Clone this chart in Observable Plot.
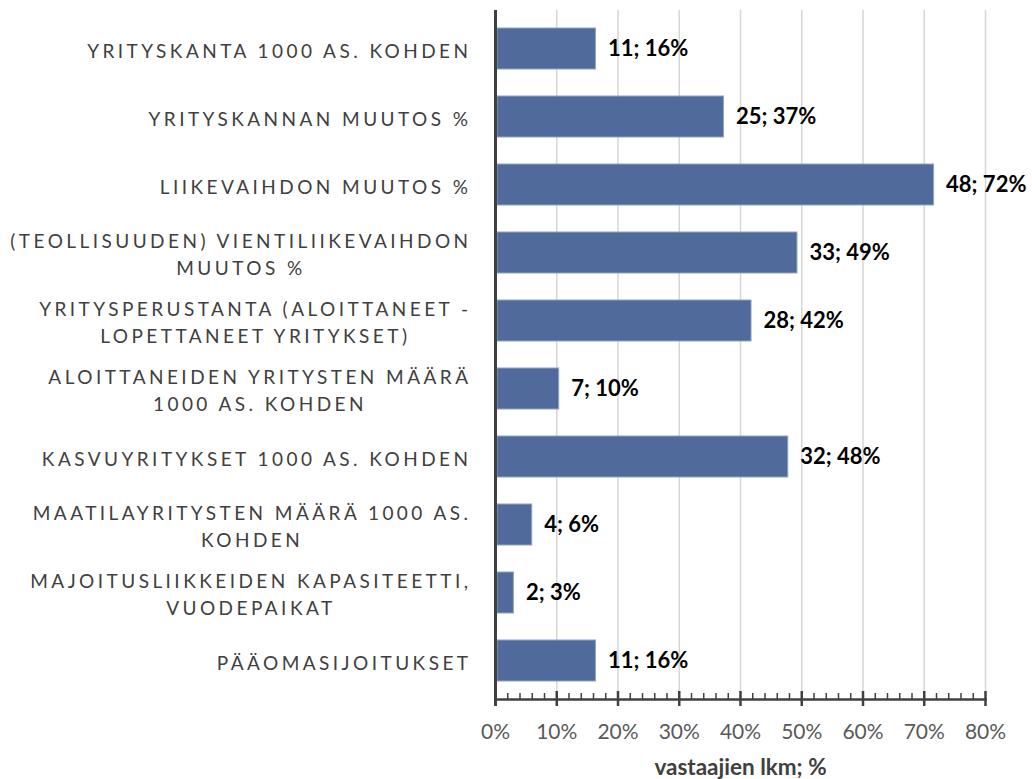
<!DOCTYPE html>
<html><head><meta charset="utf-8">
<script src="https://cdn.jsdelivr.net/npm/d3@7"></script>
<script src="https://cdn.jsdelivr.net/npm/@observablehq/plot@0.6"></script>
<style>
body{margin:0;background:#fff}
#chart svg{font-family:Lato,"Open Sans",sans-serif;background:#fff}
#chart g[aria-label="y-axis tick label"] text{letter-spacing:3.45px}
</style></head><body><div id="chart"></div>
<script>
const categories = [
  "YRITYSKANTA 1000 AS. KOHDEN",
  "YRITYSKANNAN MUUTOS %",
  "LIIKEVAIHDON MUUTOS %",
  "(TEOLLISUUDEN) VIENTILIIKEVAIHDON MUUTOS %",
  "YRITYSPERUSTANTA (ALOITTANEET - LOPETTANEET YRITYKSET)",
  "ALOITTANEIDEN YRITYSTEN MÄÄRÄ 1000 AS. KOHDEN",
  "KASVUYRITYKSET 1000 AS. KOHDEN",
  "MAATILAYRITYSTEN MÄÄRÄ 1000 AS. KOHDEN",
  "MAJOITUSLIIKKEIDEN KAPASITEETTI, VUODEPAIKAT",
  "PÄÄOMASIJOITUKSET"
];
const counts = [11, 25, 48, 33, 28, 7, 32, 4, 2, 11];
const shares = [16.4, 37.3, 71.6, 49.3, 41.8, 10.4, 47.8, 6.0, 3.0, 16.4];
const valueLabels = ["11; 16%", "25; 37%", "48; 72%", "33; 49%", "28; 42%", "7; 10%", "32; 48%", "4; 6%", "2; 3%", "11; 16%"];
const xTicks = [0, 10, 20, 30, 40, 50, 60, 70, 80];
const minorTicks = [2, 4, 6, 8, 12, 14, 16, 18, 22, 24, 26, 28, 32, 34, 36, 38, 42, 44, 46, 48, 52, 54, 56, 58, 62, 64, 66, 68, 72, 74, 76, 78];
const xTitle = "vastaajien lkm; %";

function wrap(s, max = 33) {
  const words = s.split(" ");
  const lines = [];
  let cur = "";
  for (const w of words) {
    if (cur && (cur + " " + w).length > max) { lines.push(cur); cur = w; }
    else cur = cur ? cur + " " + w : w;
  }
  if (cur) lines.push(cur);
  return lines.join("\n");
}

const data = categories.map((c, i) => ({category: c, count: counts[i], share: shares[i], label: valueLabels[i]}));

const W = 1032, H = 779, mT = 10, mB = 80, mL = 495, mR = 47;
const innerH = H - mT - mB;

const chart = Plot.plot({
  width: W, height: H,
  marginLeft: mL, marginRight: mR, marginTop: mT, marginBottom: mB,
  x: {domain: [0, 80]},
  y: {domain: categories, paddingInner: 0.4, paddingOuter: 0.2},
  marks: [
    Plot.gridX(xTicks.slice(1), {stroke: "#d6d6d6", strokeOpacity: 1, strokeWidth: 1.5}),
    Plot.barX(data, {x: "share", y: "category", fill: "#4a6698", fillOpacity: 0.97, stroke: "#8ea3c8", strokeWidth: 1, insetLeft: 2}),
    Plot.text(data, {x: "share", y: "category", text: "label", textAnchor: "start", dx: 12, fontWeight: "bold", fontSize: 22, fill: "#000"}),
    Plot.frame({anchor: "bottom", stroke: "#404040", strokeWidth: 2.5}),
    Plot.tickX(minorTicks, {x: d => d, stroke: "#404040", strokeWidth: 1.5, insetTop: innerH - 6}),
    Plot.tickX(xTicks, {x: d => d, stroke: "#404040", strokeWidth: 2.5, insetTop: innerH - 8, insetBottom: -7}),
    Plot.ruleX([0], {stroke: "#404040", strokeWidth: 3, insetBottom: -7}),
    Plot.axisX({ticks: xTicks, tickSize: 0, tickPadding: 25, tickFormat: d => d + "%", fontSize: 21, color: "#595959", label: null}),
    Plot.axisY({tickSize: 0, tickPadding: 24, tickFormat: d => wrap(d), fontSize: 19, color: "#404040", lineHeight: 1.4, label: null}),
    Plot.text([xTitle], {frameAnchor: "bottom", dy: 75, fontWeight: "bold", fontSize: 22.5, fill: "#404040"})
  ]
});
document.getElementById("chart").appendChild(chart);

// Center multi-line category labels relative to each other (right-aligned block)
chart.querySelectorAll('g[aria-label="y-axis tick label"] text').forEach(t => {
  const spans = t.querySelectorAll("tspan");
  if (spans.length > 1) {
    let maxW = 0;
    spans.forEach(s => { maxW = Math.max(maxW, s.getComputedTextLength()); });
    t.setAttribute("text-anchor", "middle");
    spans.forEach(s => s.setAttribute("x", -maxW / 2));
  }
});
</script></body></html>
